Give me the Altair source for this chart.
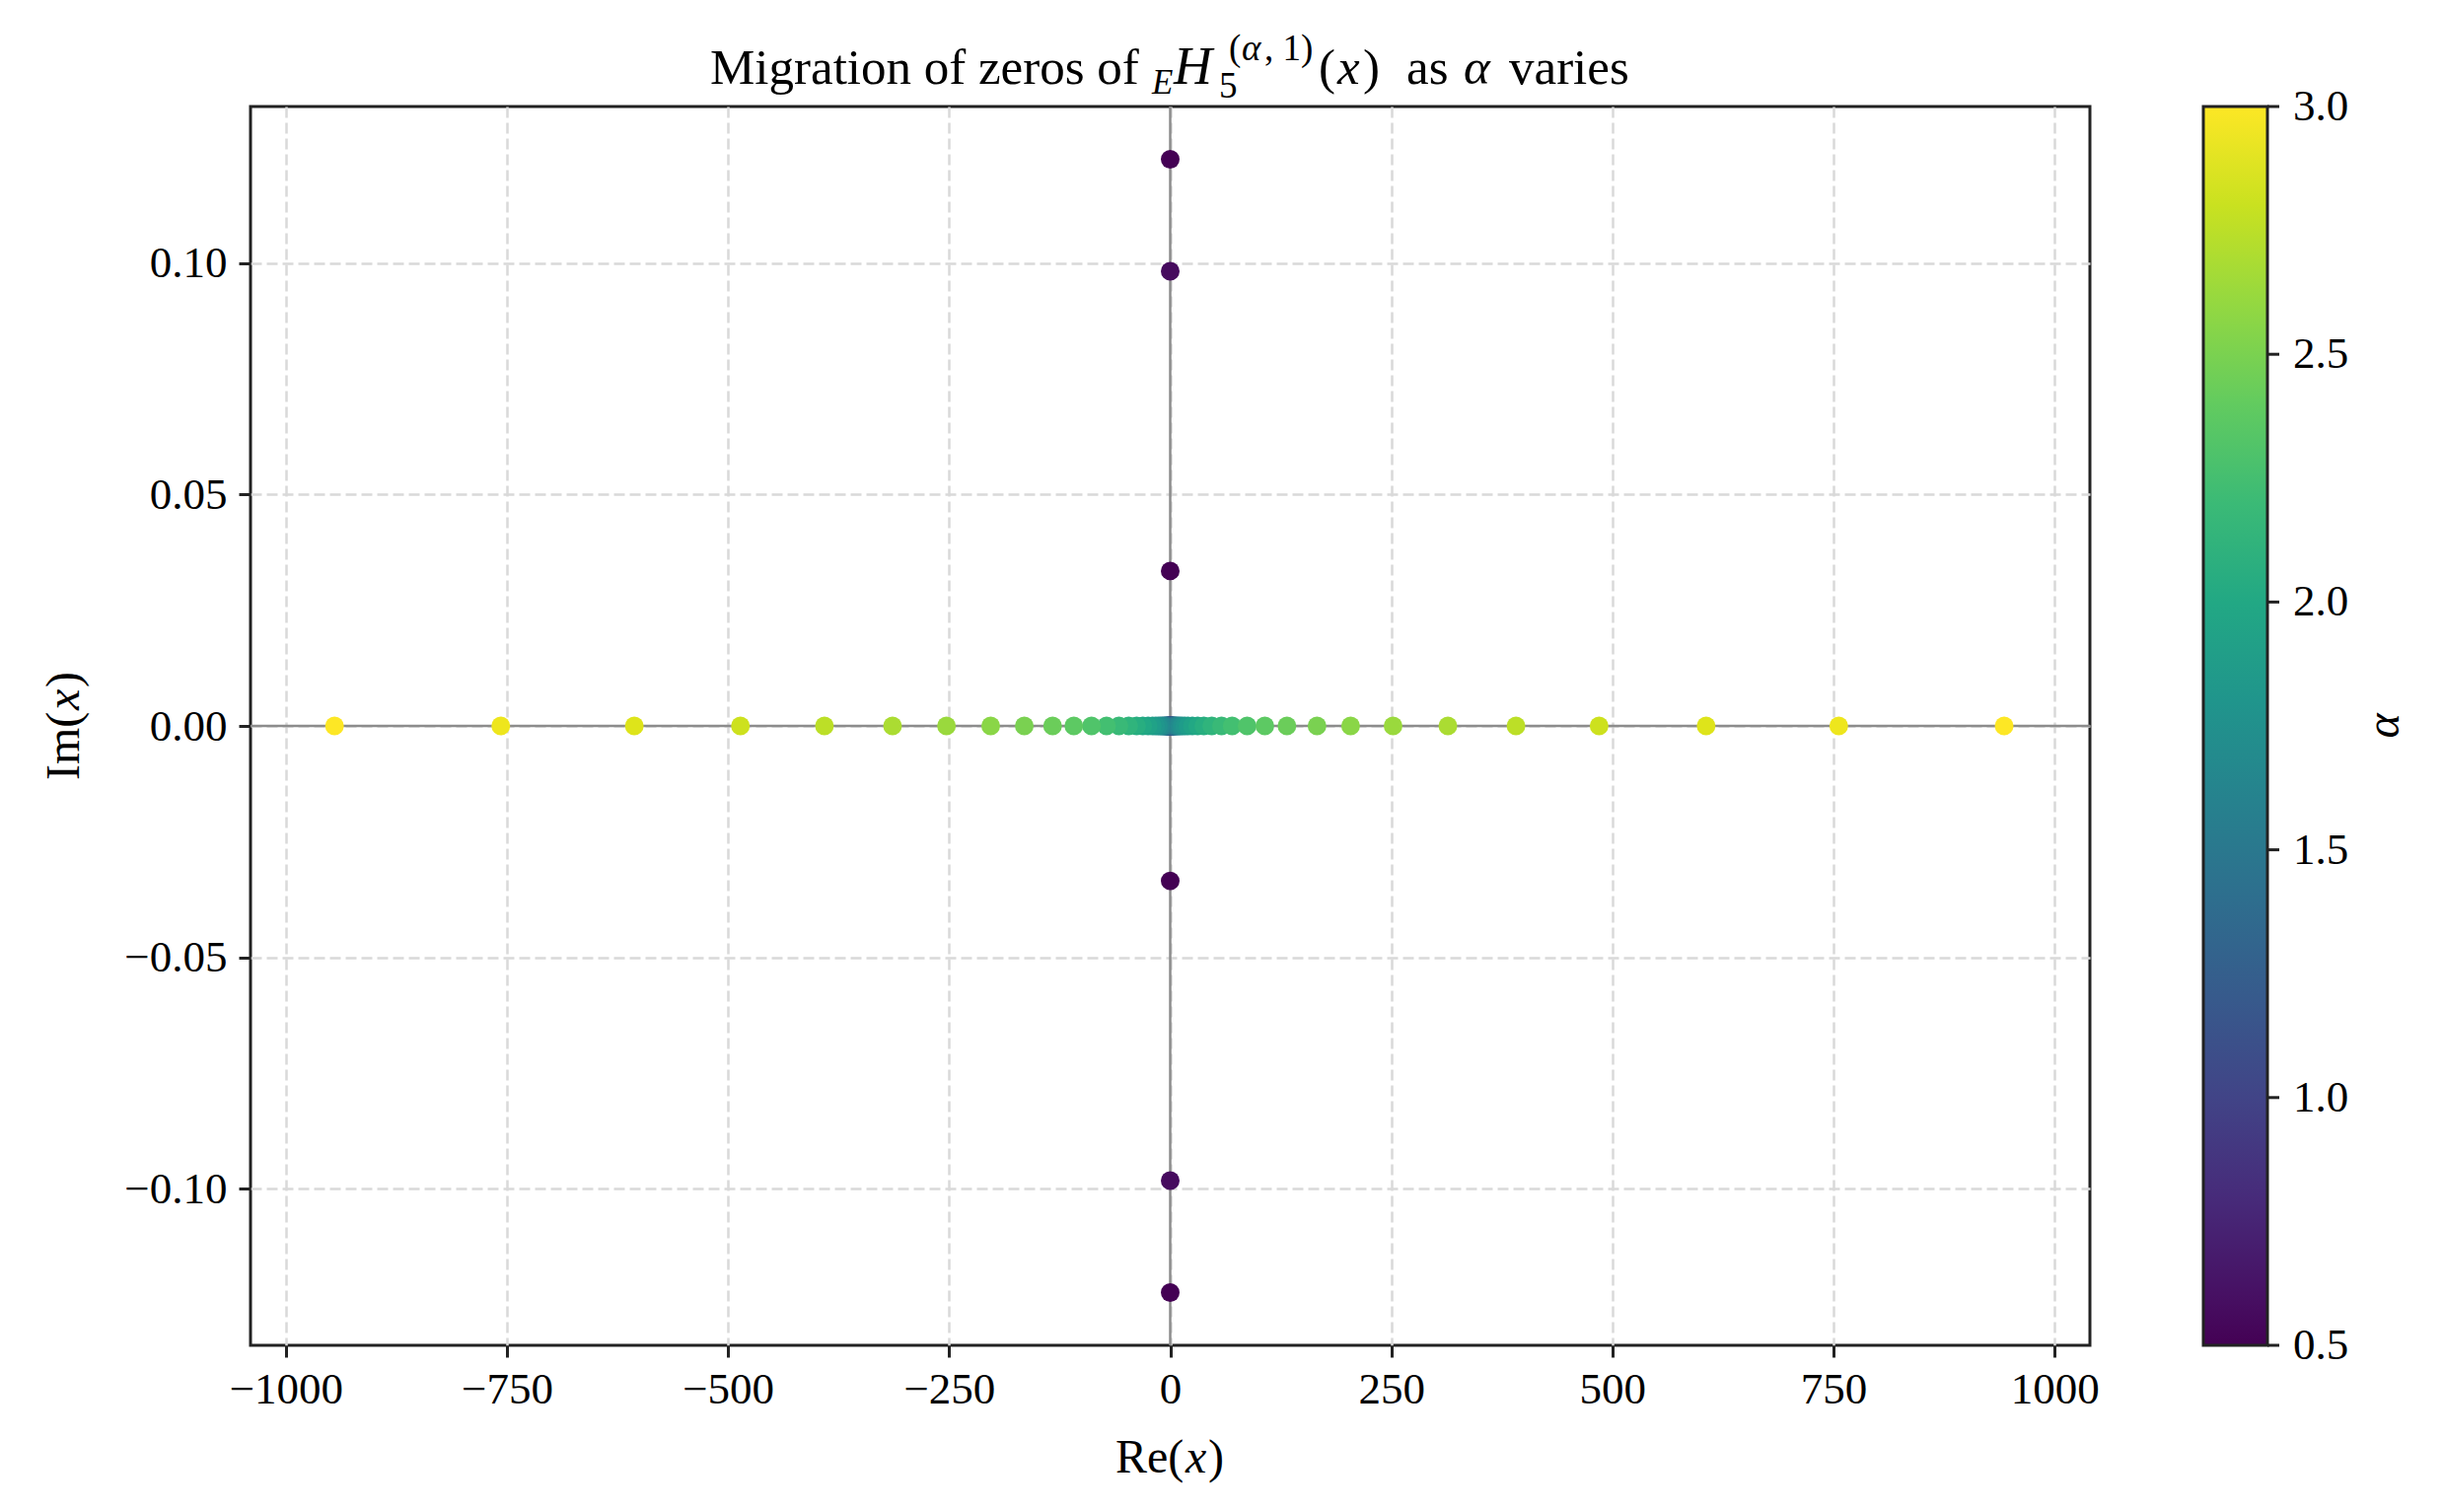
import altair as alt
import pandas as pd

# ---------------- data ----------------
# purely imaginary zeros (alpha, Im)
alpha_imag = [0.5, 0.5, 0.5, 0.5, 0.5625, 0.5625]
im_vals = [0.1225, 0.0335, -0.0335, -0.1225, 0.0983, -0.0983]

# zeros sitting at the origin
alpha_center = [0.5, 0.5625, 0.625, 0.6875, 0.75, 0.8125, 0.875, 0.9375, 1.0]

# real zero pairs
alpha_real = [0.625, 0.6875, 0.75, 0.8125, 0.875, 0.9375, 1.0, 1.0625, 1.125, 1.1875,
              1.25, 1.3125, 1.375, 1.4375, 1.5, 1.5625, 1.625, 1.6875, 1.75, 1.8125,
              1.875, 1.9375, 2.0, 2.0625, 2.125, 2.1875, 2.25, 2.3125, 2.375, 2.4375,
              2.5, 2.5625, 2.625, 2.6875, 2.75, 2.8125, 2.875, 2.9375, 3.0]
re_pos = [0.30, 0.37, 0.45, 0.56, 0.69, 0.85, 1.05, 1.3, 1.6, 2.0,
          2.4, 3.0, 3.7, 4.6, 5.7, 7.0, 8.7, 10.7, 13.2, 16.3,
          20, 25, 31, 38, 47, 58, 70, 87, 107, 132,
          166, 204, 252, 314, 391, 485, 606, 756, 943]
re_neg = [-0.30, -0.37, -0.45, -0.56, -0.69, -0.85, -1.05, -1.3, -1.6, -2.0,
          -2.4, -3.0, -3.7, -4.6, -5.7, -7.0, -8.7, -10.7, -13.2, -16.3,
          -20, -25, -31, -38, -47, -58, -72, -89, -109, -133,
          -165, -203, -253, -314, -391, -486, -606, -757, -945]

x_ticks = [-1000, -750, -500, -250, 0, 250, 500, 750, 1000]
y_ticks = [-0.10, -0.05, 0.00, 0.05, 0.10]
cbar_ticks = [0.5, 1.0, 1.5, 2.0, 2.5, 3.0]
cbar_labels = ["0.5", "1.0", "1.5", "2.0", "2.5", "3.0"]

# ---------------- table ----------------
rows = []
for a, v in zip(alpha_imag, im_vals):
    rows.append({"re": 0.0, "im": v, "alpha": a})
for a in alpha_center:
    rows.append({"re": 0.0, "im": 0.0, "alpha": a})
for a, p, n in zip(alpha_real, re_pos, re_neg):
    rows.append({"re": p, "im": 0.0, "alpha": a})
    rows.append({"re": n, "im": 0.0, "alpha": a})
df = pd.DataFrame(rows)

FONT = "Liberation Serif"
W, H = 1865, 1256

xscale = alt.Scale(domain=[-1040, 1040], nice=False, zero=False)
yscale = alt.Scale(domain=[-0.1339, 0.1339], nice=False, zero=False)
xaxis = alt.Axis(values=x_ticks, format="d", title=None, grid=True,
                 labelPadding=10, labelFlush=False)
yaxis = alt.Axis(values=y_ticks, format=".2f", title=None, grid=True,
                 labelPadding=12, labelFlush=False)

zero_df = pd.DataFrame({"re": [0.0], "im": [0.0]})
vline = alt.Chart(zero_df).mark_rule(color="#8c8c8c", strokeWidth=2.5).encode(
    x=alt.X("re:Q", scale=xscale, axis=xaxis))
hline = alt.Chart(zero_df).mark_rule(color="#8c8c8c", strokeWidth=2.5).encode(
    y=alt.Y("im:Q", scale=yscale, axis=yaxis))

pts = alt.Chart(df).mark_circle(size=360, opacity=1).encode(
    x=alt.X("re:Q", scale=xscale, axis=xaxis),
    y=alt.Y("im:Q", scale=yscale, axis=yaxis),
    color=alt.Color("alpha:Q",
                    scale=alt.Scale(scheme="viridis", domain=[0.5, 3.0]),
                    legend=alt.Legend(orient="none", legendX=1980, legendY=0,
                                      direction="vertical", gradientLength=H,
                                      gradientThickness=65, title=None,
                                      labelOpacity=0, padding=0,
                                      gradientStrokeColor="#222",
                                      gradientStrokeWidth=3)),
    order=alt.Order("alpha:Q", sort="ascending"),
)

main = alt.layer(vline, hline, pts)

cb = pd.DataFrame({"t": cbar_ticks, "lab": cbar_labels})
cb_scale = alt.Scale(domain=[0.5, 3.0], nice=False, zero=False)
cb_ticks = alt.Chart(cb).mark_rule(color="#222", strokeWidth=3).encode(
    y=alt.Y("t:Q", scale=cb_scale, axis=None),
    x=alt.value(2045), x2=alt.value(2057))
cb_text = alt.Chart(cb).mark_text(align="left", baseline="middle", font=FONT,
                                  fontSize=45, color="black").encode(
    y=alt.Y("t:Q", scale=cb_scale, axis=None),
    x=alt.value(2071), text="lab:N")
cbar = alt.layer(cb_ticks, cb_text)


def txt(s, x, y, size, italic=False, angle=0, align="left", baseline="alphabetic"):
    kw = dict(text=s, font=FONT, fontSize=size, color="black", align=align,
              baseline=baseline)
    if italic:
        kw["fontStyle"] = "italic"
    if angle:
        kw["angle"] = angle
    return alt.Chart(pd.DataFrame({"k": [0]})).mark_text(**kw).encode(
        x=alt.value(x), y=alt.value(y))


texts = [
    # title
    txt("Migration of zeros of", 466, -23, 51),
    txt("E", 914, -13, 35, italic=True),
    txt("H", 936, -23, 54, italic=True),
    txt("(", 992, -47, 37),
    txt("α", 1005, -47, 37, italic=True),
    txt(", 1)", 1028, -47, 37),
    txt("5", 982, -9, 37),
    txt("(", 1083, -23, 51),
    txt("x", 1102, -23, 51, italic=True),
    txt(")", 1128, -23, 51),
    txt("as", 1172, -23, 51),
    txt("α", 1230, -23, 51, italic=True),
    txt("varies", 1276, -23, 51),
    # x title
    txt("Re(", 877, 1385, 48),
    txt("x", 948, 1385, 48, italic=True),
    txt(")", 971, 1385, 48),
    # y title (rotated)
    txt("Im(", -174, 683, 48, angle=270),
    txt("x", -174, 612, 48, italic=True, angle=270),
    txt(")", -174, 589, 48, angle=270),
    # colorbar title
    txt("α", 2178, 628, 48, italic=True, angle=270, align="center"),
]

chart = alt.layer(main, cbar, *texts).resolve_scale(y="independent").properties(
    width=W, height=H,
    autosize=alt.AutoSizeParams(type="none"),
    padding={"left": 246, "top": 100, "right": 350, "bottom": 150},
).configure_view(
    stroke="#222", strokeWidth=3
).configure_axis(
    labelFont=FONT, labelFontSize=45, labelColor="black",
    tickColor="#222", tickWidth=3, tickSize=12,
    domain=False,
    gridColor="#d9d9d9", gridWidth=2.5, gridDash=[11, 5],
)

chart.save("out.html", embed_options={"renderer": "svg", "actions": False})
